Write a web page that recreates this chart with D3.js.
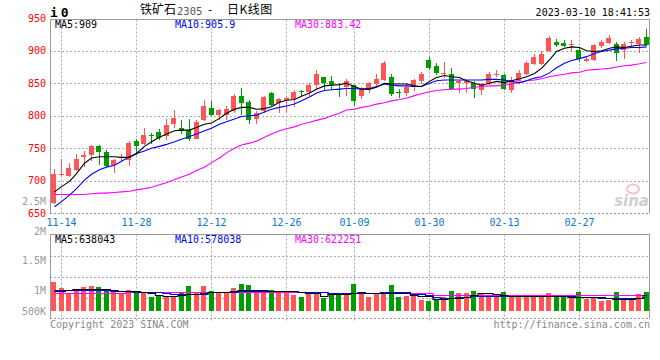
<!DOCTYPE html>
<html><head><meta charset="utf-8">
<script src="https://cdn.jsdelivr.net/npm/d3@7"></script>
<style>body{margin:0;background:#fff}svg{display:block}</style>
</head><body><svg id="c" width="660" height="360"></svg>
<script>
// ---------- data ----------
const dates = ["11-11","11-14","11-15","11-16","11-17","11-18","11-21","11-22","11-23","11-24","11-25",
"11-28","11-29","11-30","12-01","12-02","12-05","12-06","12-07","12-08","12-09",
"12-12","12-13","12-14","12-15","12-16","12-19","12-20","12-21","12-22","12-23",
"12-26","12-27","12-28","12-29","12-30","01-03","01-04","01-05","01-06",
"01-09","01-10","01-11","01-12","01-13","01-16","01-17","01-18","01-19","01-20",
"01-30","01-31","02-01","02-02","02-03","02-06","02-07","02-08","02-09","02-10",
"02-13","02-14","02-15","02-16","02-17","02-20","02-21","02-22","02-23","02-24",
"02-27","02-28","03-01","03-02","03-03","03-06","03-07","03-08","03-09","03-10"];
const open  = [666,709,708,717,737,739,754,744,724,736,732,761,757,771,775,769,788,782,778,765,794,812,801,802,807,830,822,795,807,835,820,824,826,838,837,847,859,854,841,844,847,830,840,849,855,859,837,835,844,853,886,877,865,864,850,850,851,840,850,864,863,840,853,864,879,879,899,913,912,909,901,884,886,908,912,910,901,912,911,921];
const high  = [718,734,728,741,746,755,755,747,733,742,761,764,781,773,780,795,809,794,795,794,824,823,811,815,833,843,824,807,830,836,828,830,839,840,850,870,860,861,850,857,847,845,852,864,884,865,842,850,857,868,891,882,883,873,855,855,853,851,868,871,865,859,871,885,895,900,923,918,917,917,904,891,911,917,924,914,913,917,921,933];
const low   = [665,707,706,715,722,730,725,722,712,731,723,740,755,757,763,763,782,772,762,764,792,799,794,794,805,801,788,787,805,815,805,806,814,830,830,840,840,840,829,830,815,826,835,846,853,830,828,830,838,849,871,863,858,839,835,835,828,832,847,860,840,835,849,863,878,878,898,906,906,900,883,883,885,905,911,885,888,907,897,908];
const close = [710,710,720,734,739,753,745,723,732,737,758,754,770,770,766,786,797,777,765,790,815,801,809,810,830,820,793,804,829,817,826,828,837,836,847,865,851,847,840,854,823,841,850,857,882,834,836,845,855,865,874,866,866,841,854,853,841,849,865,865,841,855,866,882,890,895,920,909,907,910,887,888,909,914,919,897,911,913,918,909];
const ma5   = [683,691,699,711,727,735,737,737,737,736,736,742,753,760,767,772,777,778,778,782,787,789,796,804,810,813,813,810,811,814,821,824,825,830,835,841,846,847,848,850,845,841,841,844,850,849,849,849,846,845,853,859,862,860,859,854,850,847,850,853,851,854,857,860,865,873,886,899,904,906,905,900,899,900,904,906,905,907,909,909];
const ma10  = [660,668,678,688,701,710,717,721,724,730,737,742,746,750,753,756,760,764,768,772,777,781,787,791,795,799,800,801,806,810,813,815,818,823,829,835,839,840,841,842,842,841,842,845,849,847,846,846,845,845,850,854,855,855,855,855,855,855,856,856,855,853,851,854,858,860,866,874,881,885,888,891,896,899,901,903,904,905,905,906];
const ma30  = [679,679,679,679,679,680,681,681,682,683,684,686,688,690,694,697,702,706,710,716,721,728,735,743,750,755,758,761,767,772,777,780,783,787,790,793,796,800,804,809,810,813,815,818,820,823,825,827,831,834,837,839,840,841,841,842,844,845,846,846,847,849,851,854,855,857,860,862,864,866,867,870,871,872,873,875,877,878,880,882];
const volume = [1148000,908000,732000,852000,960000,1000000,948000,868000,852000,668000,828000,732000,732000,560000,600000,560000,560000,732000,988000,732000,988000,788000,732000,732000,920000,1068000,1028000,788000,788000,828000,788000,732000,652000,560000,732000,732000,520000,652000,652000,732000,1068000,692000,560000,692000,692000,1028000,560000,600000,600000,428000,388000,468000,560000,788000,708000,708000,788000,668000,628000,628000,748000,600000,600000,652000,600000,600000,708000,600000,600000,600000,748000,468000,520000,388000,428000,748000,520000,520000,692000,748000];
const volMa5  = [800,800,833,866,866,866,866,866,840,800,800,800,750,707,640,613,613,640,667,667,707,747,747,747,800,840,840,840,840,820,800,800,800,750,707,707,613,667,667,667,720,747,730,720,707,707,707,707,640,613,613,467,467,507,507,560,640,707,707,680,650,613,613,613,613,613,613,613,613,573,573,573,573,573,520,467,467,467,540,638].map(v=>v*1000);
const volMa10 = [840,840,840,840,840,840,840,840,820,800,800,780,747,747,747,720,680,667,667,667,700,747,747,747,770,800,800,800,800,800,800,800,800,770,747,747,747,707,707,707,707,707,720,730,747,747,747,747,680,667,640,580,533,533,545,573,590,613,613,613,613,613,613,613,613,613,613,613,613,590,573,573,560,540,540,540,540,540,540,560].map(v=>v*1000);
const volMa30 = [710,710,710,710,710,710,710,710,710,710,780,780,780,780,780,780,780,780,780,780,780,780,780,780,780,780,780,780,780,780,780,780,780,780,780,780,780,707,707,707,707,707,707,707,707,707,707,707,707,707,707,625,625,625,625,625,625,625,625,625,625,625,625,625,625,625,625,625,625,625,625,625,625,625,625,625,625,625,625,625].map(v=>v*1000);
const dateTicks = ["11-14","11-28","12-12","12-26","01-09","01-30","02-13","02-27"];
const priceTicks = [650,700,750,800,850,900,950];
const volTickLabels = ["2.5M","2M","1.5M","1M","500K"];
const titleName = "铁矿石", titleCode = "2305", titleType = "日K线图";
const stamp = "2023-03-10 18:41:53";
const priceLegend = ["MA5:909","MA10:905.9","MA30:883.42"];
const volLegend = ["MA5:638043","MA10:578038","MA30:622251"];

// ---------- drawing ----------
const svg = d3.select("#c");
const L = 50, R = 649.5, PT = 19.5, PB = 213.5, VT = 234.5, VB = 318.5;
const MONO = "'DejaVu Sans Mono', monospace";
const CJK = "'Noto Sans CJK SC', sans-serif";
const RED = "#ff5555", GREEN = "#009d00", GRID = "#aaa", FRAME = "#999";

const x = d3.scaleBand(dates, [50, 650]).paddingInner(0.27).paddingOuter(0.135);
const cx = d => Math.round(x(d) + x.bandwidth()/2) + 0.5;
const y = d3.scaleLinear([650, 950], [213.3, 18.3]);
const yv = d3.scaleLinear([0, 3.08e6], [311, 234]);

const rows = dates.map((d,i)=>({d, o:open[i], h:high[i], l:low[i], c:close[i], v:volume[i]}));
const col = r => r.c >= r.o ? RED : GREEN;

// horizontal gridlines price
svg.append("g").selectAll("line").data(priceTicks.filter(t=>t>650 && t<950)).join("line")
  .attr("x1", L).attr("x2", R).attr("y1", t=>Math.round(y(t))+0.5).attr("y2", t=>Math.round(y(t))+0.5)
  .attr("stroke", GRID).attr("stroke-dasharray","2,2");
svg.append("line").attr("x1",L).attr("x2",R).attr("y1",PB).attr("y2",PB).attr("stroke",FRAME).attr("stroke-dasharray","2,2");
// volume gridlines (4 divisions)
svg.append("g").selectAll("line").data(d3.range(1,4)).join("line")
  .attr("x1", L).attr("x2", R)
  .attr("y1", k=>Math.round(VT + (VB-VT)*k/4)+0.5).attr("y2", k=>Math.round(VT + (VB-VT)*k/4)+0.5)
  .attr("stroke", GRID).attr("stroke-dasharray","2,2");
svg.append("line").attr("x1",L).attr("x2",R).attr("y1",VB).attr("y2",VB).attr("stroke",FRAME).attr("stroke-dasharray","2,2");

// vertical date gridlines
const vg = svg.append("g");
vg.selectAll(".vp").data(dateTicks).join("line")
  .attr("x1", cx).attr("x2", cx).attr("y1", PT).attr("y2", PB)
  .attr("stroke", GRID).attr("stroke-dasharray","2,2");
vg.selectAll(".vv").data(dateTicks).join("line")
  .attr("x1", cx).attr("x2", cx).attr("y1", VT).attr("y2", VB+2)
  .attr("stroke", GRID).attr("stroke-dasharray","2,2");

// frames
const fr = svg.append("g").attr("stroke", FRAME).attr("fill","none");
fr.append("path").attr("d", `M${L+0.5},${PB}V${PT}H${R}V${PB}`);
fr.append("path").attr("d", `M${L+0.5},${VB}V${VT}H${R}V${VB}`);

// volume bars
svg.append("g").attr("shape-rendering","crispEdges").selectAll("rect").data(rows).join("rect")
  .attr("x", r=>Math.round(x(r.d))).attr("width", Math.round(x.bandwidth()))
  .attr("y", r=>yv(r.v)).attr("height", r=>yv(0)-yv(r.v))
  .attr("fill", col);

// volume MA lines
const vline = arr => d3.line().x((d,i)=>cx(dates[i])).y(d=>Math.round(yv(d))+0.5).curve(d3.curveStep)(arr);
[[volMa30,"#ff00ff"],[volMa10,"#0000ff"],[volMa5,"#000"]].forEach(([a,c])=>{
  svg.append("path").attr("d", vline(a)).attr("fill","none").attr("stroke",c).attr("stroke-width",1.2);
});

// candles
const cg = svg.append("g").attr("shape-rendering","crispEdges");
cg.selectAll("line").data(rows).join("line")
  .attr("x1", r=>cx(r.d)).attr("x2", r=>cx(r.d))
  .attr("y1", r=>y(r.h)).attr("y2", r=>y(r.l)).attr("stroke", col);
cg.selectAll("rect").data(rows).join("rect")
  .attr("x", r=>Math.round(x(r.d))).attr("width", Math.round(x.bandwidth()))
  .attr("y", r=>y(Math.max(r.o,r.c))).attr("height", r=>Math.max(1, Math.abs(y(r.o)-y(r.c))))
  .attr("fill", col);

// price MA lines
const pline = arr => d3.line().x((d,i)=>cx(dates[i])).y(d=>y(d))(arr);
[[ma30,"#ff00ff"],[ma10,"#0000ff"],[ma5,"#000"]].forEach(([a,c])=>{
  svg.append("path").attr("d", pline(a)).attr("fill","none").attr("stroke",c).attr("stroke-width",1.1);
});

// watermark
const wm = svg.append("g");
wm.append("ellipse").attr("cx",633).attr("cy",189).attr("rx",6).attr("ry",4.5).attr("fill","none").attr("stroke","#f2c4c4").attr("stroke-width",2);
wm.append("text").attr("x",649).attr("y",206).attr("text-anchor","end")
  .attr("font-family","'DejaVu Sans', sans-serif").attr("font-style","italic").attr("font-weight","bold")
  .attr("font-size",15).attr("fill","#cfcfcf").text("sina");

// y-axis labels
svg.append("g").selectAll("text").data(priceTicks).join("text")
  .attr("x", 46).attr("y", t=>y(t)).attr("dy","0.35em").attr("text-anchor","end")
  .attr("font-family", MONO).attr("font-size",10).attr("fill","#ff0000").text(t=>t);
const volLabelY = [201, 231, 260, 290, 311];
svg.append("g").selectAll("text").data(volTickLabels).join("text")
  .attr("x", 46).attr("y", (t,i)=>volLabelY[i]).attr("dy","0.35em").attr("text-anchor","end")
  .attr("font-family", MONO).attr("font-size",10).attr("fill","#999").text(t=>t);

// date labels
svg.append("g").selectAll("text").data(dateTicks).join("text")
  .attr("x", cx).attr("y", 222).attr("dy","0.35em").attr("text-anchor","middle")
  .attr("font-family", MONO).attr("font-size",10).attr("fill","#0a77cc").text(d=>d);

// legends
const legX = [55, 175, 295], legC = ["#000","#0000ff","#ff00ff"];
svg.append("g").selectAll("text").data(priceLegend).join("text")
  .attr("x",(d,i)=>legX[i]).attr("y",24).attr("dy","0.35em")
  .attr("font-family", MONO).attr("font-size",10).attr("fill",(d,i)=>legC[i]).text(d=>d);
svg.append("g").selectAll("text").data(volLegend).join("text")
  .attr("x",(d,i)=>legX[i]).attr("y",239).attr("dy","0.35em")
  .attr("font-family", MONO).attr("font-size",10).attr("fill",(d,i)=>legC[i]).text(d=>d);

// header
svg.append("text").attr("x",50).attr("y",12).attr("dy","0.35em").attr("letter-spacing",3)
  .attr("font-family", MONO).attr("font-weight","bold").attr("font-size",13).attr("fill","#000").text("i0");
const hy = 10;
svg.append("text").attr("x",140).attr("y",hy).attr("dy","0.35em")
  .attr("font-family", CJK).attr("font-size",12).attr("fill","#000").text(titleName);
svg.append("text").attr("x",177).attr("y",hy+1).attr("dy","0.35em")
  .attr("font-family", MONO).attr("font-size",10.5).attr("fill","#555").text(titleCode);
svg.append("text").attr("x",210).attr("y",hy).attr("dy","0.35em").attr("text-anchor","middle")
  .attr("font-family", CJK).attr("font-size",12).attr("fill","#000").text("-");
svg.append("text").attr("x",227).attr("y",hy).attr("dy","0.35em")
  .attr("font-family", CJK).attr("font-size",12).attr("letter-spacing",0.5).attr("fill","#000").text(titleType);
svg.append("text").attr("x",650).attr("y",12).attr("dy","0.35em").attr("text-anchor","end")
  .attr("font-family", MONO).attr("font-size",10).attr("fill","#000").text(stamp);

// footer
svg.append("text").attr("x",50).attr("y",324).attr("dy","0.35em")
  .attr("font-family", MONO).attr("font-size",10).attr("fill","#888").text("Copyright 2023 SINA.COM");
svg.append("text").attr("x",650).attr("y",324).attr("dy","0.35em").attr("text-anchor","end")
  .attr("font-family", MONO).attr("font-size",10).attr("fill","#888").text("http://finance.sina.com.cn");
</script></body></html>
